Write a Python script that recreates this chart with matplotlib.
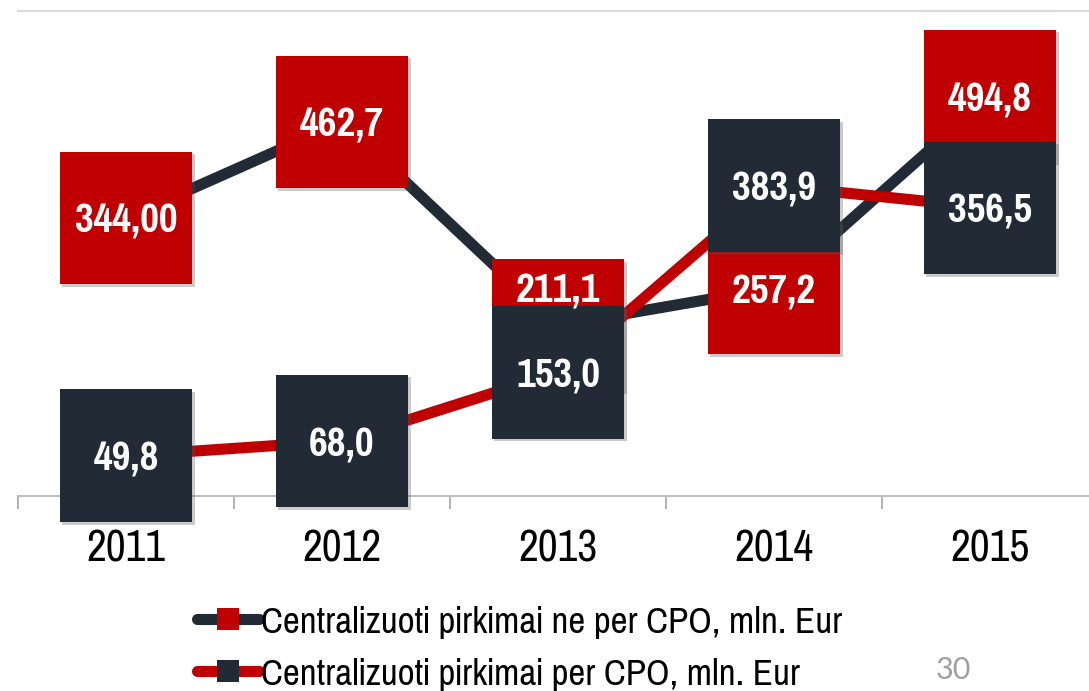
import matplotlib
matplotlib.use('Agg')
import matplotlib.pyplot as plt
import matplotlib.patheffects as pe
from matplotlib.lines import Line2D
import numpy as np

plt.rcParams['font.family'] = ['Pragati Narrow', 'DejaVu Sans']

# data
years = ['2011', '2012', '2013', '2014', '2015']
ne_per_cpo = [344.00, 462.7, 211.1, 257.2, 494.8]
per_cpo = [49.8, 68.0, 153.0, 383.9, 356.5]
ne_per_cpo_labels = ['344,00', '462,7', '211,1', '257,2', '494,8']
per_cpo_labels = ['49,8', '68,0', '153,0', '383,9', '356,5']
series_names = ['Centralizuoti pirkimai ne per CPO, mln. Eur',
                'Centralizuoti pirkimai per CPO, mln. Eur']

RED = '#C00000'
DARK = '#222A35'

fig = plt.figure(figsize=(10.89, 6.91), dpi=100)
ax = fig.add_axes([18 / 1089, 195 / 691, 1080 / 1089, 485 / 691])

x = np.arange(len(years))
shadow = [pe.SimplePatchShadow(offset=(2, -2), alpha=0.3, shadow_rgbFace='#555555'), pe.Normal()]

# lines first, red line over dark line
ax.plot(x, ne_per_cpo, color=DARK, lw=8, zorder=2, solid_capstyle='butt')
ax.plot(x, per_cpo, color=RED, lw=8, zorder=3, solid_capstyle='butt')

# square markers, dark ones on top
ms = 95.5
ax.plot(x, ne_per_cpo, ls='none', marker='s', ms=ms, mfc=RED, mec=RED, mew=0,
        zorder=4, path_effects=shadow, clip_on=False)
ax.plot(x, per_cpo, ls='none', marker='s', ms=ms, mfc=DARK, mec=DARK, mew=0,
        zorder=5, path_effects=shadow, clip_on=False)

# data labels (211,1 is lifted so it stays visible above the dark box)
ne_offsets = [0, 0, 27, 0, 0]
for xi, v, t, dy in zip(x, ne_per_cpo, ne_per_cpo_labels, ne_offsets):
    ax.annotate(t, (xi, v), xytext=(0, dy), textcoords='offset points',
                ha='center', va='center_baseline', color='white', fontsize=32,
                fontweight='bold', zorder=6)
for xi, v, t in zip(x, per_cpo, per_cpo_labels):
    ax.annotate(t, (xi, v), ha='center', va='center_baseline', color='white',
                fontsize=32, fontweight='bold', zorder=7, annotation_clip=False)

ax.set_xlim(-0.5, len(years) - 0.5)
ax.set_ylim(0, 600)
ax.set_yticks([])
ax.set_xticks(x)
ax.set_xticklabels(years, fontsize=34)
ax.set_xticks(np.arange(-0.5, len(years)), minor=True)
ax.tick_params(axis='x', which='major', length=0, pad=24)
ax.tick_params(axis='x', which='minor', length=9.5, width=1.2, color='#a6a6a6')
for s in ['left', 'right']:
    ax.spines[s].set_visible(False)
ax.spines['bottom'].set_color('#bfbfbf')
ax.spines['bottom'].set_linewidth(1.5)
ax.spines['top'].set_color('#d9d9d9')
ax.spines['top'].set_linewidth(1.5)

# legend
handles = [
    Line2D([], [], color=DARK, lw=8, solid_capstyle='round', marker='s', ms=16,
           mfc=RED, mec=RED, mew=0),
    Line2D([], [], color=RED, lw=8, solid_capstyle='round', marker='s', ms=16,
           mfc=DARK, mec=DARK, mew=0),
]
fig.legend(handles, series_names, loc='center left',
           bbox_to_anchor=(197 / 1089, 1 - 648 / 691), frameon=False,
           fontsize=29, handlelength=1.55, handletextpad=0.04,
           labelspacing=0.45, borderpad=0, borderaxespad=0)

# page number
fig.text(953 / 1089, 1 - 670 / 691, '30', ha='center', va='center',
         fontsize=22, color='#a0a0a0', family=['Lato', 'DejaVu Sans'])

plt.savefig('out.png', dpi=100)
